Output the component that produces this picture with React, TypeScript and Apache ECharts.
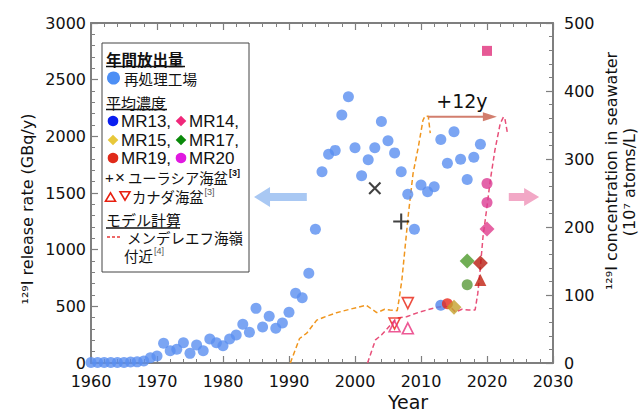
import React, { useEffect, useRef } from 'react';
import * as echarts from 'echarts';

// ---- data ----
const releaseYears = [
  1960, 1961, 1962, 1963, 1964, 1965, 1966, 1967, 1968, 1969,
  1970, 1971, 1972, 1973, 1974, 1975, 1976, 1977, 1978, 1979,
  1980, 1981, 1982, 1983, 1984, 1985, 1986, 1987, 1988, 1989,
  1990, 1991, 1992, 1993, 1994, 1995, 1996, 1997, 1998, 1999,
  2000, 2001, 2002, 2003, 2004, 2005, 2006, 2007, 2008, 2009,
  2010, 2011, 2012, 2013, 2014, 2015, 2016, 2017, 2018, 2019,
];
const releaseValues = [
  5, 5, 5, 5, 5, 5, 8, 10, 18, 47,
  62, 174, 109, 121, 179, 85, 159, 109, 212, 179,
  153, 212, 247, 341, 271, 482, 318, 412, 306, 353,
  447, 615, 576, 791, 1180, 1688, 1841, 1876, 2188, 2350,
  1900, 1653, 1794, 1900, 2130, 1962, 1854, 1688, 1488, 1180,
  1570, 1512, 1556, 1973, 1762, 2041, 1797, 1620, 1815, 1930,
];

// model (dashed) curves: [year, concentration]
const modelOrange = [
  [1990.2, 0], [1991.6, 36], [1992.7, 44], [1994.2, 63], [1995.2, 67], [1997.2, 74],
  [1999.2, 79], [2001.7, 85], [2003.3, 74], [2004.5, 79], [2005.3, 78], [2006.4, 77],
  [2006.7, 95], [2007.1, 122], [2008.1, 220], [2008.8, 279], [2009.6, 318], [2010.3, 357],
  [2010.6, 363], [2011.1, 363], [2011.4, 338],
];
const modelPink = [
  [2001.9, 0], [2003.1, 34], [2004.0, 41], [2005.1, 53], [2006.3, 66], [2007.8, 68],
  [2009.8, 75], [2012.4, 82], [2013.6, 83], [2014.5, 82], [2015.2, 75], [2016.2, 79],
  [2017.2, 78], [2018.2, 78], [2018.6, 102], [2019.0, 142], [2019.4, 186], [2020.0, 230],
  [2020.5, 269], [2021.2, 313], [2022.0, 352], [2022.5, 362], [2022.7, 360], [2023.1, 338],
];

// measured concentrations: [year, concentration]
const mr13Circle = [[2013, 85]];
const redCircle = [[2014, 87]];
const mr15Diamond = [[2015, 82]];
const mr17Diamond = [[2017, 150]];
const mr17Circle = [[2017, 115]];
const mr19Diamond = [[2019, 147]];
const mr19Triangle = [[2019, 122]];
const mr20Diamond = [[2020, 197]];
const mr20Circles = [[2020, 236], [2020, 264]];
const mr20Square = [[2020, 459]];
const eurasiaCross = [[2003, 257]];
const eurasiaPlus = [[2007, 208]];
const canadaDown = [[2006, 58], [2008, 88]];
const canadaUp = [[2006, 54], [2008, 51]];

const xTicks = { min: 1960, max: 2030, interval: 10 };
const leftTicks = { min: 0, max: 3000, interval: 500 };
const rightTicks = { min: 0, max: 500, interval: 100 };

const FONT = "'DejaVu Sans', 'Noto Sans CJK JP', sans-serif";
const JFONT = "'Noto Sans CJK JP', sans-serif";
const LFONT = "'Liberation Sans', Arial, sans-serif";
const AXIS_COLOR = '#7f7f7f';
const PLUS = 'path://M0,4.35H10V5.65H0Z M4.35,0H5.65V10H4.35Z';

function axisCommon() {
  return {
    axisLine: { show: true, onZero: false, lineStyle: { color: AXIS_COLOR, width: 2 } },
    axisTick: { show: true, inside: true, length: 7, lineStyle: { color: AXIS_COLOR, width: 1.2 } },
    minorTick: { show: true, splitNumber: 5, length: 4, lineStyle: { color: AXIS_COLOR, width: 1 } },
    splitLine: { show: false },
  };
}

function pointSeries(data: number[][], symbol: string, size: number, color: string, extra: any = {}) {
  return {
    type: 'scatter',
    xAxisIndex: 0,
    yAxisIndex: 1,
    data,
    symbol,
    symbolSize: size,
    clip: false,
    itemStyle: { color },
    z: 5,
    ...extra,
  };
}

const plain = (v: number) => String(v);

export default function App() {
  const ref = useRef<HTMLDivElement>(null);
  useEffect(() => {
    const chart = echarts.init(ref.current!, undefined, { renderer: 'svg' });
    const option: any = {
      animation: false,
      backgroundColor: '#fff',
      grid: { left: 91, right: 91, top: 23, bottom: 49 },
      xAxis: [
        {
          type: 'value', ...xTicks, ...axisCommon(), position: 'bottom',
          axisLabel: { fontSize: 16, fontFamily: FONT, color: '#111', margin: 10, formatter: plain },
        },
        {
          type: 'value', ...xTicks, ...axisCommon(), position: 'top',
          axisLabel: { show: false },
        },
      ],
      yAxis: [
        {
          type: 'value', ...leftTicks, ...axisCommon(), position: 'left',
          axisLabel: { fontSize: 16, fontFamily: FONT, color: '#111', margin: 5, formatter: plain },
        },
        {
          type: 'value', ...rightTicks, ...axisCommon(), position: 'right',
          axisLabel: { fontSize: 16, fontFamily: FONT, color: '#111', margin: 11, formatter: plain },
        },
      ],
      series: [
        {
          type: 'scatter', xAxisIndex: 0, yAxisIndex: 0,
          data: releaseYears.map((y, i) => [y, releaseValues[i]]),
          symbol: 'circle', symbolSize: 11, clip: false,
          itemStyle: { color: '#5a8ff0' }, z: 3,
        },
        {
          type: 'line', xAxisIndex: 0, yAxisIndex: 1, data: modelOrange,
          showSymbol: false, symbol: 'none',
          lineStyle: { color: '#f0961e', width: 1.5, type: [5, 3] }, z: 2,
        },
        {
          type: 'line', xAxisIndex: 0, yAxisIndex: 1, data: modelPink,
          showSymbol: false, symbol: 'none',
          lineStyle: { color: '#e8507a', width: 1.5, type: [5, 3] }, z: 2,
        },
        pointSeries(mr13Circle, 'circle', 11, '#4f84ec'),
        pointSeries(redCircle, 'circle', 11, '#e8281c'),
        pointSeries(mr15Diamond, 'diamond', 15, '#c4a02c'),
        pointSeries(mr17Diamond, 'diamond', 15, '#4c9a2a'),
        pointSeries(mr17Circle, 'circle', 11, '#5a9a3a'),
        pointSeries(mr19Diamond, 'diamond', 15, '#b81c10'),
        pointSeries(mr19Triangle, 'triangle', 12, '#c02010'),
        pointSeries(mr20Diamond, 'diamond', 15, '#e03c8c'),
        pointSeries(mr20Circles, 'circle', 11, '#dc3c94'),
        pointSeries(mr20Square, 'rect', 10, '#e0307a'),
        pointSeries(eurasiaCross, PLUS, 16, '#111', { symbolRotate: 45 }),
        pointSeries(eurasiaPlus, PLUS, 16, '#111'),
        pointSeries(canadaDown, 'triangle', 11, '#ffffff', {
          symbolRotate: 180,
          itemStyle: { color: 'rgba(255,255,255,0)', borderColor: '#e82010', borderWidth: 1.6 },
        }),
        pointSeries(canadaUp, 'triangle', 11, '#ffffff', {
          itemStyle: { color: 'rgba(255,255,255,0)', borderColor: '#e8307a', borderWidth: 1.6 },
        }),
      ],
    };
    chart.setOption(option);

    const p = (x: number, y: number) => chart.convertToPixel({ seriesIndex: 1 }, [x, y]) as number[];

    // annotation arrows in data coordinates
    const bt = p(1984.7, 244);
    const bTail = p(1992.7, 244);
    const blueArrow = [
      [bt[0], bt[1]], [bt[0] + 16, bt[1] - 10], [bt[0] + 16, bt[1] - 4], [bTail[0], bTail[1] - 4],
      [bTail[0], bTail[1] + 4], [bt[0] + 16, bt[1] + 4], [bt[0] + 16, bt[1] + 10],
    ];
    const pTail = p(2023.3, 244);
    const pt = p(2027.9, 244);
    const pinkArrow = [
      [pTail[0], pTail[1] - 4], [pt[0] - 15, pt[1] - 4], [pt[0] - 15, pt[1] - 9], [pt[0], pt[1]],
      [pt[0] - 15, pt[1] + 9], [pt[0] - 15, pt[1] + 4], [pTail[0], pTail[1] + 4],
    ];
    const a0 = p(2011.1, 362);
    const a1 = p(2021.5, 362);
    const lbl = p(2016.2, 386);

    const txt = (text: string, x: number, y: number, font: string, size: number, extra: any = {}) => ({
      type: 'text', x, y, z: 101,
      style: {
        text, fill: '#111', fontFamily: font, fontSize: size, lineHeight: Math.round(size),
        verticalAlign: 'middle', align: 'left', ...extra,
      },
    });
    const supStyle = (bold: boolean, color: string) => ({
      fontFamily: LFONT, fontSize: 9, lineHeight: 9, fill: color,
      fontWeight: bold ? 'bold' : 'normal', padding: [0, 0, 9, 1],
    });
    // Japanese text followed by a superscript reference mark, as one rich text
    const jsup = (main: string, sup: string, x: number, y: number, size: number, bold: boolean, supColor: string) => ({
      type: 'text', x, y, z: 101,
      style: {
        text: `{j|${main}}{s|${sup}}`,
        verticalAlign: 'middle', align: 'left',
        rich: {
          j: { fontFamily: JFONT, fontSize: size, lineHeight: 15, fill: '#111' },
          s: supStyle(bold, supColor),
        },
      },
    });
    const uline = (x1: number, x2: number, y: number) => ({
      type: 'line', z: 101, shape: { x1, y1: y, x2, y2: y }, style: { stroke: '#111', lineWidth: 1.3 },
    });
    const circ = (cx: number, cy: number, r: number, fill: string) => ({
      type: 'circle', z: 101, shape: { cx, cy, r }, style: { fill },
    });
    const diam = (cx: number, cy: number, h: number, fill: string) => ({
      type: 'polygon', z: 101,
      shape: { points: [[cx, cy - h], [cx + h, cy], [cx, cy + h], [cx - h, cy]] }, style: { fill },
    });
    const tri = (cx: number, cy: number, h: number, down: boolean, stroke: string) => ({
      type: 'polygon', z: 101,
      shape: {
        points: down
          ? [[cx - h, cy - h * 0.85], [cx + h, cy - h * 0.85], [cx, cy + h * 0.85]]
          : [[cx - h, cy + h * 0.85], [cx + h, cy + h * 0.85], [cx, cy - h * 0.85]],
      },
      style: { fill: 'none', stroke, lineWidth: 1.6 },
    });
    const vtext = (text: string, x: number, y: number) => ({
      type: 'text', x, y, rotation: Math.PI / 2, z: 101,
      style: { text, fill: '#111', fontFamily: FONT, fontSize: 16, lineHeight: 18, align: 'center', verticalAlign: 'middle' },
    });

    const graphic: any[] = [
      { type: 'polygon', z: 50, shape: { points: blueArrow }, style: { fill: '#a9c8f3' } },
      { type: 'polygon', z: 50, shape: { points: pinkArrow }, style: { fill: '#f2a8c6' } },
      { type: 'line', z: 50, shape: { x1: a0[0], y1: a0[1], x2: a1[0] - 12, y2: a1[1] }, style: { stroke: '#d27e6e', lineWidth: 2 } },
      {
        type: 'polygon', z: 50,
        shape: { points: [[a1[0] - 14, a1[1] - 4.5], [a1[0], a1[1]], [a1[0] - 14, a1[1] + 4.5]] },
        style: { fill: '#d27e6e' },
      },
      txt('+12y', lbl[0], lbl[1], FONT, 19, { align: 'center' }),

      // axis titles
      txt('Year', 408, 402, FONT, 19, { align: 'center' }),
      vtext('¹²⁹I release rate (GBq/y)', 27, 209),
      vtext('¹²⁹I concentration in seawater', 611, 171),
      vtext('(10⁷ atoms/L)', 629, 182),

      // legend box
      { type: 'rect', z: 100, shape: { x: 102, y: 43, width: 147, height: 229 }, style: { fill: '#fff', stroke: '#444', lineWidth: 1 } },
      txt('年間放出量', 106, 58.5, JFONT, 15.5, { fontWeight: 'bold' }),
      uline(106, 185, 66.5),
      circ(113.5, 78, 6.5, '#4d8ff5'),
      txt('再処理工場', 124, 78, JFONT, 14.6),
      txt('平均濃度', 106, 102, JFONT, 15),
      uline(106, 167, 109.5),
      circ(113, 121, 5.3, '#0a1ef0'), txt('MR13,', 121, 121, LFONT, 17),
      diam(181, 121, 5.3, '#f0287a'), txt('MR14,', 189, 121, LFONT, 17),
      diam(113, 140, 5.3, '#e8c83a'), txt('MR15,', 121, 140, LFONT, 17),
      diam(181, 140, 5.3, '#0a8a0a'), txt('MR17,', 189, 140, LFONT, 17),
      circ(113, 158, 5.3, '#e02a1a'), txt('MR19,', 121, 158, LFONT, 17),
      circ(181, 158, 5.3, '#e018e0'), txt('MR20', 189, 158, LFONT, 17),
      txt('+', 105, 177, LFONT, 15),
      txt('×', 115, 177, LFONT, 17),
      jsup('ユーラシア海盆', '[3]', 128, 177, 14.3, true, '#111'),
      tri(110.5, 197, 5, false, '#e82010'),
      tri(125, 196, 5, true, '#e82010'),
      jsup('カナダ海盆', '[3]', 132, 196, 14.3, false, '#555'),
      txt('モデル計算', 106, 219.5, JFONT, 15, { lineHeight: 14 }),
      uline(106, 180, 228),
      { type: 'line', z: 101, shape: { x1: 107, y1: 237, x2: 122, y2: 237 }, style: { stroke: '#e83838', lineWidth: 1.4, lineDash: [3, 2] } },
      txt('メンデレエフ海嶺', 127, 237, JFONT, 14.5, { lineHeight: 14 }),
      jsup('付近', '[4]', 124, 255.5, 14.5, false, '#555'),
    ];
    chart.setOption({ graphic });
    return () => chart.dispose();
  }, []);
  return <div ref={ref} style={{ position: 'fixed', left: 0, top: 0, width: 644, height: 412 }} />;
}
